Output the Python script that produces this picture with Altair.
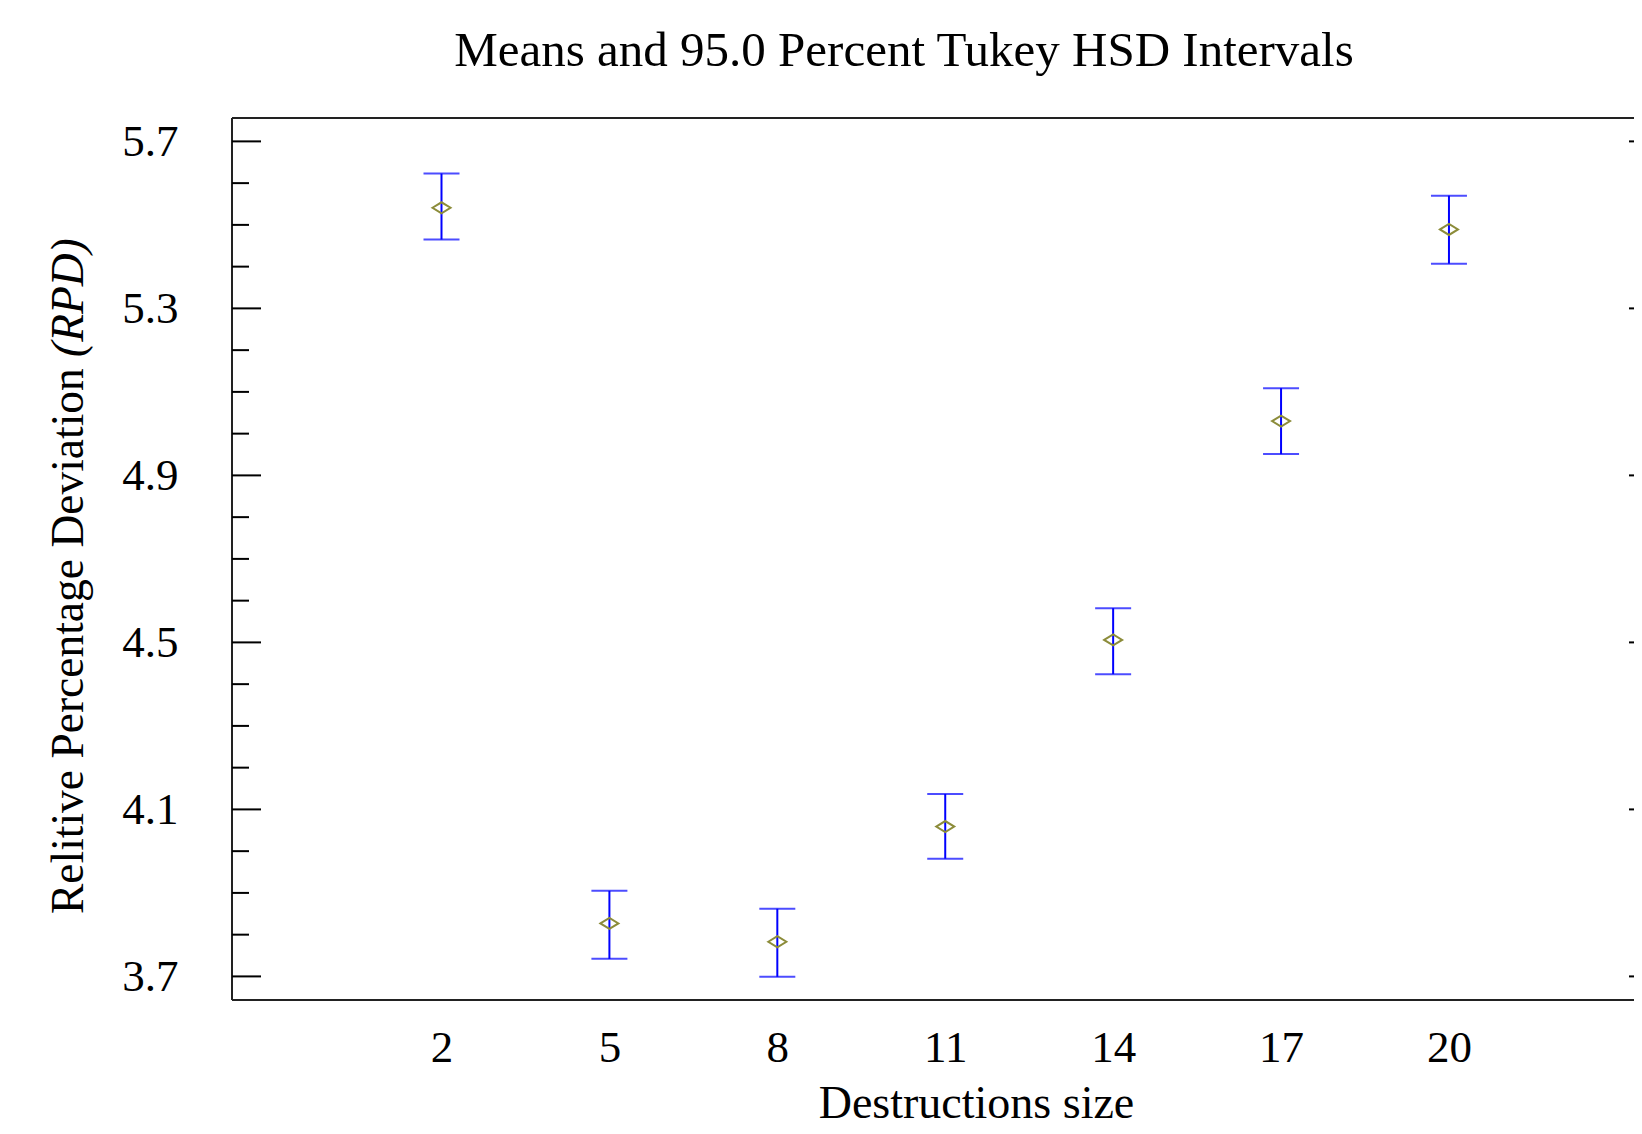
import altair as alt
import pandas as pd

# ---- data ----
sizes = [2, 5, 8, 11, 14, 17, 20]
means = [5.541, 3.827, 3.783, 4.059, 4.506, 5.030, 5.489]
lower = [5.465, 3.742, 3.699, 3.982, 4.424, 4.951, 5.407]
upper = [5.623, 3.905, 3.862, 4.137, 4.582, 5.109, 5.570]

y_major = [3.7, 4.1, 4.5, 4.9, 5.3, 5.7]
y_minor = [3.8, 3.9, 4.0, 4.2, 4.3, 4.4, 4.6, 4.7, 4.8,
           5.0, 5.1, 5.2, 5.4, 5.5, 5.6]

title_text = "Means and 95.0 Percent Tukey HSD Intervals"
x_title = "Destructions size"
y_title_main = "Relitive Percentage Deviation "
y_title_italic = "(RPD)"

W, H = 1402, 882
FONT = "Liberation Serif"
BLUE = "#0000ff"
OLIVE = "#8c8c3a"

df = pd.DataFrame({"size": sizes, "mean": means, "lower": lower, "upper": upper})
xs = alt.Scale(domain=[-1.743, 23.306], nice=False, zero=False)
ys = alt.Scale(domain=[3.6435, 5.756], nice=False, zero=False)

xaxis = alt.Axis(values=sizes, format="d", title=None, ticks=False, tickSize=0,
                 domain=False, grid=False, labelFont=FONT, labelFontSize=45,
                 labelColor="black", labelPadding=25)
yaxis = alt.Axis(values=y_major, format=".1f", title=None, ticks=False, tickSize=0,
                 domain=False, grid=False, labelFont=FONT, labelFontSize=45,
                 labelColor="black", labelPadding=54)

X = alt.X("size:Q", scale=xs, axis=xaxis)

base = alt.Chart(df)
bars = base.mark_rule(color=BLUE, strokeWidth=2).encode(
    x=X, y=alt.Y("lower:Q", scale=ys, axis=yaxis), y2="upper:Q",
)
cap_hi = base.mark_tick(orient="horizontal", size=36, thickness=2, color=BLUE).encode(
    x=X, y=alt.Y("upper:Q", scale=ys, axis=yaxis),
)
cap_lo = base.mark_tick(orient="horizontal", size=36, thickness=2, color=BLUE).encode(
    x=X, y=alt.Y("lower:Q", scale=ys, axis=yaxis),
)
diamonds = base.mark_point(
    shape="M -1 0 L 0 -0.61 L 1 0 L 0 0.61 Z", size=324, filled=False,
    stroke=OLIVE, strokeWidth=2, opacity=1,
).encode(x=X, y=alt.Y("mean:Q", scale=ys, axis=yaxis))

one = pd.DataFrame({"k": [0]})
frame_left = alt.Chart(one).mark_rule(color="#222222", strokeWidth=2).encode(
    x=alt.value(0), y=alt.value(0), y2=alt.value(H))
frame_top = alt.Chart(one).mark_rule(color="#222222", strokeWidth=2).encode(
    x=alt.value(0), x2=alt.value(W), y=alt.value(0))
frame_bottom = alt.Chart(one).mark_rule(color="#222222", strokeWidth=2).encode(
    x=alt.value(0), x2=alt.value(W), y=alt.value(H))

maj = pd.DataFrame({"v": y_major})
mnr = pd.DataFrame({"v": y_minor})
tick_l_major = alt.Chart(maj).mark_rule(color="black", strokeWidth=2).encode(
    y=alt.Y("v:Q", scale=ys, axis=yaxis), x=alt.value(0), x2=alt.value(29))
tick_l_minor = alt.Chart(mnr).mark_rule(color="black", strokeWidth=2).encode(
    y=alt.Y("v:Q", scale=ys, axis=yaxis), x=alt.value(0), x2=alt.value(17))
tick_r_major = alt.Chart(maj).mark_rule(color="black", strokeWidth=2).encode(
    y=alt.Y("v:Q", scale=ys, axis=yaxis), x=alt.value(W - 5), x2=alt.value(W))

title = alt.Chart(pd.DataFrame({"t": [title_text]})).mark_text(
    font=FONT, fontSize=49, align="center", baseline="alphabetic", color="black"
).encode(text="t:N", x=alt.value(672), y=alt.value(-52))
xtitle = alt.Chart(pd.DataFrame({"t": [x_title]})).mark_text(
    font=FONT, fontSize=46, align="center", baseline="alphabetic", color="black"
).encode(text="t:N", x=alt.value(744.5), y=alt.value(1000))
ytitle1 = alt.Chart(pd.DataFrame({"t": [y_title_main]})).mark_text(
    font=FONT, fontSize=45.5, align="left", baseline="alphabetic", angle=270, color="black"
).encode(text="t:N", x=alt.value(-149), y=alt.value(796))
ytitle2 = alt.Chart(pd.DataFrame({"t": [y_title_italic]})).mark_text(
    font=FONT, fontSize=45.5, fontStyle="italic", align="left", baseline="alphabetic",
    angle=270, color="black"
).encode(text="t:N", x=alt.value(-149), y=alt.value(239))

chart = alt.layer(
    frame_left, frame_top, frame_bottom,
    tick_l_major, tick_l_minor, tick_r_major,
    bars, cap_hi, cap_lo, diamonds,
    title, xtitle, ytitle1, ytitle2,
).properties(
    width=W, height=H,
    padding={"left": 224, "top": 110, "right": 0, "bottom": 130},
    autosize=alt.AutoSizeParams(type="none"),
).configure_view(strokeWidth=0)

chart.save("out.html", embed_options={"renderer": "svg", "actions": False})
